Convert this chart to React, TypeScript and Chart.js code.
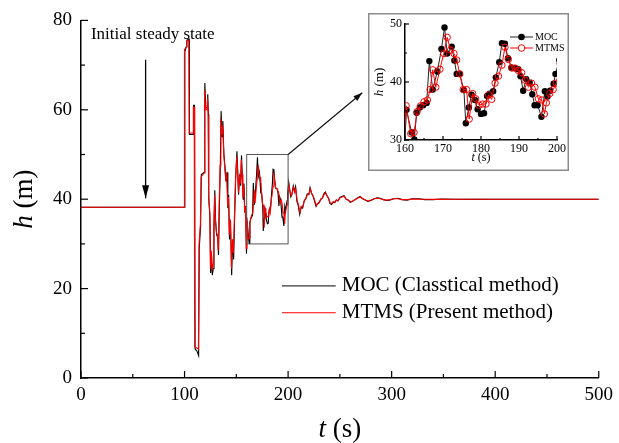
import React, { useEffect, useRef } from "react";
import { Chart, registerables } from "chart.js";
Chart.register(...registerables);

const FONT = "'Liberation Serif', 'Times New Roman', serif";

// ---- MOC (classical method) ----
const mocT = [
  0, 100.0, 100.3, 101.8, 102.3, 104.4, 104.7, 108.4, 108.7, 109.6, 110.2, 112.0, 113.6, 114.2, 115.5, 116.2,
  119.0, 119.6, 120.4, 121.8, 122.4, 123.0, 123.4, 124.5, 125.2, 126.0, 126.8, 127.8, 128.4, 129.2, 130.0,
  131.0, 132.0, 132.8, 133.6, 134.5, 135.3, 136.2, 137.0, 138.0, 139.0, 140.0, 141.0, 141.8, 142.6, 143.4,
  144.4, 145.5, 146.4, 147.4, 148.4, 149.4, 150.6, 151.4, 152.2, 153.2, 154.2, 155.0, 155.8, 156.6, 157.4,
  158.2, 159.0, 159.8,
  160.4, 161.75, 162.45, 163.06, 163.9, 164.8, 165.7, 166.4, 167.3, 168.5, 169.6, 170.4, 171.1, 172.3, 173.0,
  173.6, 174.4, 175.5, 176.0, 176.8, 177.5, 178.4, 179.1, 180.0, 180.8, 181.6, 182.3, 183.2, 183.9, 184.8,
  185.5, 186.3, 187.1, 188.0, 188.9, 189.8, 190.4, 191.1, 191.9, 192.8, 193.5, 194.1, 194.9, 195.9, 196.8,
  197.5, 198.2, 199.1, 199.6,
  200.6, 201.6, 202.6, 203.6, 205.0, 206.2, 207.2, 208.5, 209.8, 211.2, 212.6, 214.0, 215.5, 217.0, 218.5,
  220.0, 221.2, 222.6, 224.0, 225.5, 227.0, 228.5, 230.0, 231.5, 233.0, 234.5, 236.0, 237.5, 239.0, 240.5,
  242.0, 243.5, 245.0, 246.5, 248.0, 250.0, 252.0, 254.0, 256.0, 258.0, 260.0, 262.0, 264.5, 267.0, 269.5,
  272.0, 274.5, 277.0, 280.0, 283.0, 286.0, 289.0, 292.0, 295.0, 298.0, 302.0, 306.0, 310.0, 315.0, 320.0,
  326.0, 332.0, 340.0, 348.0, 360.0, 380.0, 400.0, 450.0, 500.0,
];
const mocH = [
  38.2, 38.2, 73.0, 74.2, 75.6, 75.8, 54.5, 54.5, 61.0, 61.0, 6.5, 6.0, 5.0, 29.0, 34.0, 45.5,
  46.0, 66.0, 60.5, 60.5, 63.5, 59.0, 40.0, 36.0, 23.5, 28.0, 23.0, 24.5, 33.0, 42.0, 35.0,
  32.0, 31.5, 27.5, 38.0, 47.0, 59.7, 54.0, 57.5, 50.0, 47.5, 44.0, 46.0, 38.0, 41.0, 31.0,
  35.0, 23.0, 31.0, 26.5, 36.0, 45.0, 50.7, 46.0, 41.0, 45.5, 43.0, 49.8, 45.0, 40.0, 43.5,
  37.0, 38.5, 27.8,
  35.2, 31.3, 30.1, 34.7, 35.6, 36.0, 36.4, 43.6, 38.7, 41.8, 45.7, 49.4, 44.9, 46.1, 43.7,
  41.4, 41.4, 38.6, 32.9, 35.6, 37.8, 36.9, 35.3, 34.5, 34.6, 37.6, 38.0, 38.4, 40.8, 43.4,
  46.7, 46.6, 44.1, 42.5, 42.4, 42.2, 41.0, 38.5, 40.5, 39.9, 37.9, 36.0, 36.0, 34.0, 38.4,
  37.5, 38.5, 39.7, 41.4,
  43.8, 42.0, 40.5, 41.0, 43.0, 41.8, 42.8, 39.5, 38.6, 36.6, 38.2, 38.0, 39.6, 40.0, 41.2,
  41.0, 42.6, 41.4, 40.8, 39.6, 38.4, 39.0, 39.2, 40.0, 40.2, 41.2, 41.6, 40.8, 40.2, 39.0,
  38.8, 39.4, 39.2, 39.8, 39.6, 40.4, 40.6, 40.8, 40.0, 39.8, 39.3, 39.5, 39.9, 40.3, 40.6,
  40.1, 39.8, 39.5, 39.7, 40.1, 40.3, 40.2, 39.9, 39.7, 39.8, 40.1, 40.2, 39.9, 39.8, 40.1,
  40.1, 39.9, 39.9, 40.05, 40.0, 39.95, 40.0, 40.0, 40.0,
];

// ---- MTMS (present method) ----
const mtmsT = [
  0, 99.6, 99.9, 101.6, 102.0, 104.2, 104.5, 108.2, 108.5, 109.3, 109.8, 113.4, 114.0, 115.3, 116.0, 118.8,
  119.4, 120.2, 121.6, 122.2, 122.8, 123.2, 124.4, 125.0, 125.8, 126.6, 127.6, 128.2, 129.0, 129.8, 130.8,
  131.8, 132.6, 133.4, 134.3, 135.1, 136.0, 136.8, 137.8, 138.8, 139.8, 140.8, 141.6, 142.4, 143.2, 144.2,
  145.3, 146.2, 147.2, 148.2, 149.2, 150.4, 151.2, 152.0, 153.0, 154.0, 154.8, 155.6, 156.4, 157.2, 158.0,
  158.8, 159.6,
  160.3, 161.5, 162.4, 163.2, 164.1, 165.0, 165.9, 166.6, 167.3, 168.1, 169.2, 170.2, 171.1, 172.0, 172.9,
  173.6, 174.4, 175.3, 176.2, 176.9, 177.8, 178.6, 179.5, 180.4, 181.3, 182.0, 182.8, 183.7, 184.6, 185.5,
  186.3, 187.2, 188.1, 189.0, 189.8, 190.7, 191.6, 192.5, 193.3, 194.2, 195.1, 196.0, 196.7, 197.2, 198.1,
  199.0, 199.8,
  200.8, 201.8, 202.8, 203.8, 205.2, 206.4, 207.4, 208.7, 210.0, 211.4, 212.8, 214.2, 215.7, 217.2, 218.7,
  220.2, 221.4, 222.8, 224.2, 225.7, 227.2, 228.7, 230.2, 231.7, 233.2, 234.7, 236.2, 237.7, 239.2, 240.7,
  242.2, 243.7, 245.2, 246.7, 248.2, 250.2, 252.2, 254.2, 256.2, 258.2, 260.2, 262.2, 264.7, 267.2, 269.7,
  272.2, 274.7, 277.2, 280.2, 283.2, 286.2, 289.2, 292.2, 295.2, 298.2, 302.2, 306.2, 310.2, 315.2, 320.2,
  330.0, 345.0, 360.0, 400.0, 500.0,
];
const mtmsH = [
  38.2, 38.2, 73.5, 74.0, 75.3, 75.6, 54.8, 54.8, 60.6, 60.6, 7.0, 6.5, 30.0, 34.5, 45.0, 45.8,
  64.5, 60.0, 60.0, 62.5, 58.5, 41.0, 37.0, 24.5, 28.5, 24.0, 25.5, 33.5, 41.0, 35.5, 32.5,
  32.0, 28.5, 38.5, 47.5, 58.0, 54.5, 56.5, 50.5, 47.0, 44.5, 45.5, 38.5, 40.5, 32.0, 35.5,
  24.5, 31.0, 28.0, 36.5, 44.0, 49.5, 46.5, 41.5, 45.0, 43.5, 48.8, 45.5, 40.5, 43.0, 37.5,
  38.0, 29.0,
  35.9, 31.1, 31.3, 34.9, 35.9, 36.6, 36.9, 38.7, 42.1, 39.1, 42.2, 44.9, 47.7, 45.5, 44.9,
  43.8, 41.4, 38.7, 38.7, 33.6, 38.0, 37.1, 36.0, 36.2, 36.2, 37.8, 37.0, 39.8, 41.0, 42.9,
  46.0, 43.9, 42.4, 42.4, 42.0, 41.6, 40.3, 39.1, 39.8, 39.1, 37.1, 36.9, 34.5, 36.4, 38.0,
  38.7, 39.8,
  43.2, 41.8, 40.8, 41.2, 42.6, 41.5, 42.4, 39.8, 38.8, 37.0, 38.4, 38.3, 39.7, 40.2, 41.0,
  41.1, 42.3, 41.3, 40.7, 39.7, 38.6, 39.1, 39.3, 40.0, 40.3, 41.0, 41.4, 40.7, 40.1, 39.2,
  39.0, 39.5, 39.3, 39.8, 39.7, 40.3, 40.5, 40.7, 40.0, 39.8, 39.4, 39.6, 39.9, 40.2, 40.5,
  40.1, 39.8, 39.6, 39.8, 40.1, 40.2, 40.1, 39.9, 39.8, 39.9, 40.1, 40.1, 39.9, 39.9, 40.05,
  40.0, 39.95, 40.0, 40.0, 40.0,
];

// axes
const mainX = { min: 0, max: 500, step: 100, minor: 50 };
const mainY = { min: 0, max: 80, step: 20, minor: 10 };
const insetX = { min: 160, max: 200, step: 10, minor: 5 };
const insetY = { min: 30, max: 50, step: 10, minor: 5 };

const seriesNames = ["MOC (Classtical method)", "MTMS (Present method)"];
const insetNames = ["MOC", "MTMS"];
const annotationText = "Initial steady state";

const toPts = (t: number[], h: number[]) => t.map((v, i) => ({ x: v, y: h[i] }));

function drawRich(ctx: CanvasRenderingContext2D, parts: Array<[string, boolean]>, cx: number, cy: number, size: number) {
  ctx.textBaseline = "middle";
  ctx.textAlign = "left";
  const fontOf = (it: boolean) => `${it ? "italic " : ""}${size}px ${FONT}`;
  const widths = parts.map(([s, it]) => {
    ctx.font = fontOf(it);
    return ctx.measureText(s).width;
  });
  const total = widths.reduce((a, b) => a + b, 0);
  let x = cx - total / 2;
  parts.forEach(([s, it], i) => {
    ctx.font = fontOf(it);
    ctx.fillText(s, x, cy);
    x += widths[i];
  });
}

function arrow(ctx: CanvasRenderingContext2D, x1: number, y1: number, x2: number, y2: number, len: number, half: number) {
  ctx.beginPath();
  ctx.moveTo(x1, y1);
  ctx.lineTo(x2, y2);
  ctx.stroke();
  const a = Math.atan2(y2 - y1, x2 - x1);
  const bx = x2 - len * Math.cos(a);
  const by = y2 - len * Math.sin(a);
  ctx.beginPath();
  ctx.moveTo(x2, y2);
  ctx.lineTo(bx + half * Math.sin(a), by - half * Math.cos(a));
  ctx.lineTo(bx - half * Math.sin(a), by + half * Math.cos(a));
  ctx.closePath();
  ctx.fill();
}

function drawTicks(chart: any, xs: any, ys: any, major: number, minor: number) {
  const { ctx, chartArea: a, scales } = chart;
  const x = scales.x, y = scales.y;
  ctx.save();
  ctx.strokeStyle = "#000";
  ctx.lineWidth = 1.2;
  for (let v = xs.min; v <= xs.max + 1e-9; v += xs.minor) {
    const px = x.getPixelForValue(v);
    const isMajor = Math.abs((v - xs.min) % xs.step) < 1e-9;
    ctx.beginPath();
    ctx.moveTo(px, a.bottom);
    ctx.lineTo(px, a.bottom - (isMajor ? major : minor));
    ctx.stroke();
  }
  for (let v = ys.min; v <= ys.max + 1e-9; v += ys.minor) {
    const py = y.getPixelForValue(v);
    const isMajor = Math.abs((v - ys.min) % ys.step) < 1e-9;
    ctx.beginPath();
    ctx.moveTo(a.left, py);
    ctx.lineTo(a.left + (isMajor ? major : minor), py);
    ctx.stroke();
  }
  ctx.restore();
}

const mainDecor = {
  id: "mainDecor",
  beforeDraw(chart: any) {
    const { ctx, width, height } = chart;
    ctx.save();
    ctx.fillStyle = "#fff";
    ctx.fillRect(0, 0, width, height);
    ctx.restore();
  },
  afterDraw(chart: any) {
    const { ctx, chartArea: a, scales } = chart;
    const x = scales.x, y = scales.y;
    drawTicks(chart, mainX, mainY, 7, 4);
    ctx.save();
    ctx.fillStyle = "#000";
    // axis titles
    drawRich(ctx, [["t", true], [" (s)", false]], (a.left + a.right) / 2, 430, 27);
    ctx.save();
    ctx.translate(25, (a.top + a.bottom) / 2);
    ctx.rotate(-Math.PI / 2);
    drawRich(ctx, [["h", true], [" (m)", false]], 0, 0, 27);
    ctx.restore();
    // initial steady state annotation
    ctx.font = `17px ${FONT}`;
    ctx.textAlign = "left";
    ctx.textBaseline = "alphabetic";
    ctx.fillText(annotationText, x.getPixelForValue(9.6), y.getPixelForValue(75.8));
    ctx.strokeStyle = "#000";
    ctx.lineWidth = 1.3;
    arrow(ctx, x.getPixelForValue(62.4), y.getPixelForValue(71.2), x.getPixelForValue(62.4), y.getPixelForValue(40.2), 13, 3.5);
    // zoom window
    const x0 = x.getPixelForValue(160), x1 = x.getPixelForValue(200);
    const y0 = y.getPixelForValue(30), y1 = y.getPixelForValue(50);
    ctx.strokeStyle = "#555";
    ctx.lineWidth = 1;
    ctx.strokeRect(x0, y1, x1 - x0, y0 - y1);
    ctx.strokeStyle = "#111";
    ctx.fillStyle = "#111";
    ctx.lineWidth = 1.2;
    arrow(ctx, x1, y1, x.getPixelForValue(271.6), y.getPixelForValue(63.8), 9, 3);
    // legend
    const lx0 = x.getPixelForValue(194), lx1 = x.getPixelForValue(246);
    const ly = [y.getPixelForValue(20.6), y.getPixelForValue(14.6)];
    const cols = ["#000", "#ff0000"];
    ctx.font = `21px ${FONT}`;
    ctx.textBaseline = "middle";
    ctx.fillStyle = "#000";
    seriesNames.forEach((n, i) => {
      ctx.strokeStyle = cols[i];
      ctx.lineWidth = 1;
      ctx.beginPath();
      ctx.moveTo(lx0, ly[i]);
      ctx.lineTo(lx1, ly[i]);
      ctx.stroke();
      ctx.fillText(n, lx1 + 6, ly[i]);
    });
    ctx.restore();
  },
};

const insetDecor = {
  id: "insetDecor",
  beforeDraw(chart: any) {
    const { ctx, width, height } = chart;
    ctx.save();
    ctx.fillStyle = "#fff";
    ctx.fillRect(0, 0, width, height);
    ctx.strokeStyle = "#8a8a8a";
    ctx.lineWidth = 1.5;
    ctx.strokeRect(0.75, 0.75, width - 1.5, height - 1.5);
    ctx.restore();
  },
  afterDraw(chart: any) {
    const { ctx, chartArea: a } = chart;
    drawTicks(chart, insetX, insetY, 4, 2);
    ctx.save();
    ctx.fillStyle = "#000";
    drawRich(ctx, [["t", true], [" (s)", false]], (a.left + a.right) / 2, 145, 12);
    ctx.save();
    ctx.translate(12, (a.top + a.bottom) / 2);
    ctx.rotate(-Math.PI / 2);
    drawRich(ctx, [["h", true], [" (m)", false]], 0, 0, 13);
    ctx.restore();
    // legend
    const lx0 = 142, lx1 = 165;
    const ly = [24, 35];
    ctx.font = `10px ${FONT}`;
    ctx.textBaseline = "middle";
    ctx.textAlign = "left";
    insetNames.forEach((n, i) => {
      ctx.strokeStyle = i === 0 ? "#222" : "#ff0000";
      ctx.lineWidth = 1;
      ctx.beginPath();
      ctx.moveTo(lx0, ly[i]);
      ctx.lineTo(lx1, ly[i]);
      ctx.stroke();
      ctx.beginPath();
      ctx.arc((lx0 + lx1) / 2, ly[i], 3.3, 0, Math.PI * 2);
      if (i === 0) {
        ctx.fillStyle = "#000";
        ctx.fill();
      } else {
        ctx.fillStyle = "#fff";
        ctx.fill();
        ctx.stroke();
      }
      ctx.fillStyle = "#000";
      ctx.fillText(n, lx1 + 2, ly[i]);
    });
    ctx.restore();
  },
};

function axisOpts(r: any, fontSize: number, pad: number, fitSize: number, isX: boolean) {
  return {
    type: "linear",
    min: r.min,
    max: r.max,
    grid: { display: false, drawTicks: false },
    border: { display: true, color: "#000", width: 1.5 },
    ticks: {
      stepSize: r.step,
      padding: pad,
      color: "#000",
      font: { family: FONT, size: fontSize },
      maxRotation: 0,
      autoSkip: false,
    },
    afterFit: (s: any) => {
      if (isX) s.height = fitSize;
      else s.width = fitSize;
    },
  };
}

export default function App() {
  const mainRef = useRef<HTMLCanvasElement>(null);
  const insetRef = useRef<HTMLCanvasElement>(null);

  useEffect(() => {
    const moc = toPts(mocT, mocH);
    const mtms = toPts(mtmsT, mtmsH);
    const main = new Chart(mainRef.current as HTMLCanvasElement, {
      type: "line",
      data: {
        datasets: [
          { label: seriesNames[1], data: mtms, borderColor: "#ff0000", borderWidth: 1.1, pointRadius: 0, tension: 0, order: 0 },
          { label: seriesNames[0], data: moc, borderColor: "#000", borderWidth: 1.1, pointRadius: 0, tension: 0, order: 1 },
        ],
      },
      options: {
        responsive: false,
        animation: false,
        events: [],
        layout: { padding: { left: 0, right: 17, top: 15, bottom: 0 } },
        plugins: { legend: { display: false }, tooltip: { enabled: false } },
        scales: {
          x: axisOpts(mainX, 19, 6, 65, true),
          y: axisOpts(mainY, 19, 9, 81, false),
        },
      } as any,
      plugins: [mainDecor],
    });
    const inset = new Chart(insetRef.current as HTMLCanvasElement, {
      type: "line",
      data: {
        datasets: [
          {
            label: insetNames[1], data: mtms, borderColor: "#ff0000", borderWidth: 1, tension: 0, order: 0,
            pointRadius: 3.2, pointBorderWidth: 1, pointBorderColor: "#ff0000", pointBackgroundColor: "rgba(255,255,255,0)",
          },
          {
            label: insetNames[0], data: moc, borderColor: "#222", borderWidth: 1, tension: 0, order: 1,
            pointRadius: 3.2, pointBorderWidth: 0, pointBackgroundColor: "#000",
          },
        ],
      },
      options: {
        responsive: false,
        animation: false,
        events: [],
        layout: { padding: { left: 0, right: 12, top: 11, bottom: 0 } },
        plugins: { legend: { display: false }, tooltip: { enabled: false } },
        scales: {
          x: axisOpts(insetX, 12, 2, 31, true),
          y: axisOpts(insetY, 12, 3, 37, false),
        },
      } as any,
      plugins: [insetDecor],
    });
    return () => {
      main.destroy();
      inset.destroy();
    };
  }, []);

  return (
    <div style={{ position: "absolute", left: 0, top: 0, width: 619, height: 443, background: "#fff" }}>
      <canvas ref={mainRef} width={619} height={443} style={{ position: "absolute", left: 0, top: 0, width: 619, height: 443 }} />
      <canvas ref={insetRef} width={201} height={158} style={{ position: "absolute", left: 368, top: 13, width: 201, height: 158 }} />
    </div>
  );
}
